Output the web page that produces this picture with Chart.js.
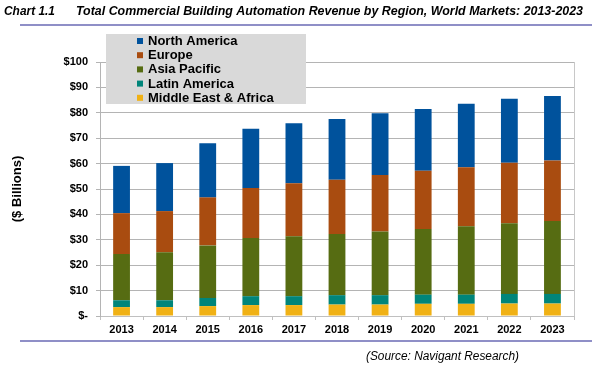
<!DOCTYPE html>
<html><head><meta charset="utf-8">
<script src="https://cdn.jsdelivr.net/npm/chart.js@4"></script>
<style>html,body{margin:0;padding:0;background:#fff}#wrap{position:relative;width:592px;height:368px}</style>
</head><body><div id="wrap"><canvas id="c" width="592" height="368"></canvas></div>
<script>
const years = ['2013','2014','2015','2016','2017','2018','2019','2020','2021','2022','2023'];
const middleEastAfrica = [3.5,3.5,3.9,4.3,4.3,4.5,4.5,4.8,4.8,4.9,4.9];
const latinAmerica     = [2.7,2.7,3.2,3.5,3.5,3.7,3.7,3.6,3.6,3.8,3.8];
const asiaPacific      = [18.2,18.9,20.7,22.9,23.6,24.1,25.1,25.9,26.9,27.8,28.7];
const europe           = [16.1,16.2,18.9,19.7,20.9,21.3,22.2,22.9,23.3,23.8,23.8];
const northAmerica     = [18.6,18.9,21.3,23.3,23.6,24.0,24.3,24.3,25.0,25.2,25.4];
const yTicks = [0,10,20,30,40,50,60,70,80,90,100];

const FONT = '"Liberation Sans", Arial, sans-serif';
const colors = {
  na:'#00529c', eu:'#a94c10', ap:'#566c12', la:'#00857a', me:'#f0b115'
};

function fitText(ctx, text, x, y, width){
  const w = ctx.measureText(text).width;
  ctx.save();
  ctx.translate(x, y);
  ctx.scale(width / w, 1);
  ctx.fillText(text, 0, 0);
  ctx.restore();
}

const decor = {
  id:'decor',
  afterDraw(chart){
    const ctx = chart.ctx, a = chart.chartArea;
    ctx.save();
    // right border
    ctx.strokeStyle = '#c8c8c8'; ctx.lineWidth = 1;
    ctx.beginPath(); ctx.moveTo(Math.round(a.right)+0.5, a.top); ctx.lineTo(Math.round(a.right)+0.5, a.bottom); ctx.stroke();
    // title
    ctx.fillStyle = '#000';
    ctx.textBaseline = 'middle';
    ctx.font = 'italic bold 13px ' + FONT;
    ctx.textAlign = 'left';
    fitText(ctx, 'Chart 1.1', 4, 11, 51);
    fitText(ctx, 'Total Commercial Building Automation Revenue by Region, World Markets: 2013-2023', 76, 11, 507);
    // rules
    ctx.strokeStyle = '#6a6ab4'; ctx.lineWidth = 1.5;
    ctx.beginPath(); ctx.moveTo(20, 25); ctx.lineTo(592, 25); ctx.stroke();
    ctx.beginPath(); ctx.moveTo(20, 341); ctx.lineTo(592, 341); ctx.stroke();
    // source
    ctx.font = 'italic 12px ' + FONT;
    ctx.textAlign = 'left';
    fitText(ctx, '(Source: Navigant Research)', 366, 357, 153);
    // legend
    ctx.fillStyle = '#d9d9d9';
    ctx.fillRect(106, 34, 200, 70);
    const ds = chart.data.datasets.slice().reverse();
    ctx.font = 'bold 13px ' + FONT;
    ctx.textAlign = 'left';
    ds.forEach((d,i)=>{
      const y = 41 + i*14.2;
      ctx.fillStyle = d.backgroundColor;
      ctx.fillRect(137, y-3, 6, 6);
      ctx.fillStyle = '#000';
      ctx.fillText(d.label, 148, y+0.5);
    });
    ctx.restore();
  }
};

new Chart(document.getElementById('c'), {
  type:'bar',
  data:{
    labels: years,
    datasets:[
      {label:'Middle East & Africa', data: middleEastAfrica, backgroundColor: colors.me},
      {label:'Latin America', data: latinAmerica, backgroundColor: colors.la},
      {label:'Asia Pacific', data: asiaPacific, backgroundColor: colors.ap},
      {label:'Europe', data: europe, backgroundColor: colors.eu},
      {label:'North America', data: northAmerica, backgroundColor: colors.na}
    ]
  },
  options:{
    responsive:false, animation:false, devicePixelRatio:1,
    layout:{padding:{top:62,right:18,left:0,bottom:0}},
    datasets:{bar:{barPercentage:0.39, categoryPercentage:1, borderWidth:0}},
    plugins:{legend:{display:false}, title:{display:false}, tooltip:{enabled:false}},
    scales:{
      x:{
        stacked:true,
        afterFit(s){ s.height = 52; },
        grid:{drawOnChartArea:false, drawTicks:true, tickLength:4, color:'#c0c0c0'},
        border:{color:'#c0c0c0'},
        ticks:{color:'#000', font:{family:FONT, size:11, weight:'bold'}, padding:3, maxRotation:0}
      },
      y:{
        stacked:true, min:0, max:100,
        afterFit(s){ s.width = 100; },
        afterBuildTicks(s){ s.ticks = yTicks.map(v=>({value:v})); },
        grid:{color:'#b4b4b4', tickLength:4, lineWidth:1},
        border:{color:'#b4b4b4'},
        ticks:{color:'#000', font:{family:FONT, size:11, weight:'bold'}, padding:8,
          callback:v=> v===0 ? '$-' : '$'+v},
        title:{display:true, text:'($ Billions)', color:'#000', font:{family:FONT, size:13, weight:'bold'}, padding:{top:10,bottom:0}}
      }
    }
  },
  plugins:[decor]
});
</script>
</body></html>
